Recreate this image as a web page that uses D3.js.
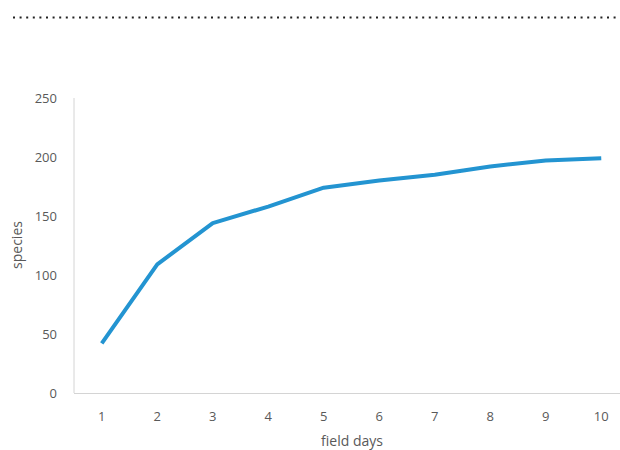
<!DOCTYPE html>
<html>
<head>
<meta charset="utf-8">
<script src="https://cdn.jsdelivr.net/npm/d3@7"></script>
<style>
  body { margin: 0; background: #fff; }
  text { font-family: "Open Sans", sans-serif; fill: #595959; }
</style>
</head>
<body>
<svg id="chart"></svg>
<script>
// field days on the x axis
const days = ["1", "2", "3", "4", "5", "6", "7", "8", "9", "10"];
// cumulative species count
const species = [42, 109, 144, 158, 174, 180, 185, 192, 197, 199];
const yTicks = [0, 50, 100, 150, 200, 250];

const width = 620, height = 450;
const svg = d3.select("#chart")
  .attr("width", width)
  .attr("height", height)
  .attr("viewBox", [0, 0, width, height]);

// dotted rule across the top
svg.append("line")
  .attr("x1", 13).attr("x2", 620)
  .attr("y1", 17.5).attr("y2", 17.5)
  .attr("stroke", "#222")
  .attr("stroke-width", 2)
  .attr("stroke-dasharray", "2,4.6");

const x = d3.scaleBand().domain(days).range([74, 629]);
const y = d3.scaleLinear().domain([0, 250]).range([393, 98]);

// axis lines
svg.append("line")
  .attr("x1", 74).attr("x2", 74)
  .attr("y1", y(250)).attr("y2", y(0))
  .attr("stroke", "#d4d4d4");
svg.append("line")
  .attr("x1", 74).attr("x2", 629)
  .attr("y1", y(0) + 0.5).attr("y2", y(0) + 0.5)
  .attr("stroke", "#d4d4d4");

// y tick labels
svg.append("g")
  .selectAll("text")
  .data(yTicks)
  .join("text")
  .attr("x", 57)
  .attr("y", d => y(d))
  .attr("dy", "0.35em")
  .attr("text-anchor", "end")
  .style("font-size", "13px")
  .text(d => d);

// x tick labels
svg.append("g")
  .selectAll("text")
  .data(days)
  .join("text")
  .attr("x", d => x(d) + x.bandwidth() / 2)
  .attr("y", 416)
  .attr("dy", "0.35em")
  .attr("text-anchor", "middle")
  .style("font-size", "13px")
  .text(d => d);

// axis titles
svg.append("text")
  .attr("transform", "translate(22,245) rotate(-90)")
  .attr("text-anchor", "middle")
  .style("font-size", "14px")
  .text("species");

svg.append("text")
  .attr("x", 352)
  .attr("y", 446)
  .attr("text-anchor", "middle")
  .style("font-size", "14px")
  .text("field days");

// the curve
const line = d3.line()
  .x((d, i) => x(days[i]) + x.bandwidth() / 2)
  .y(d => y(d));

svg.append("path")
  .datum(species)
  .attr("fill", "none")
  .attr("stroke", "#2394d1")
  .attr("stroke-width", 4)
  .attr("stroke-linejoin", "round")
  .attr("d", line);
</script>
</body>
</html>
